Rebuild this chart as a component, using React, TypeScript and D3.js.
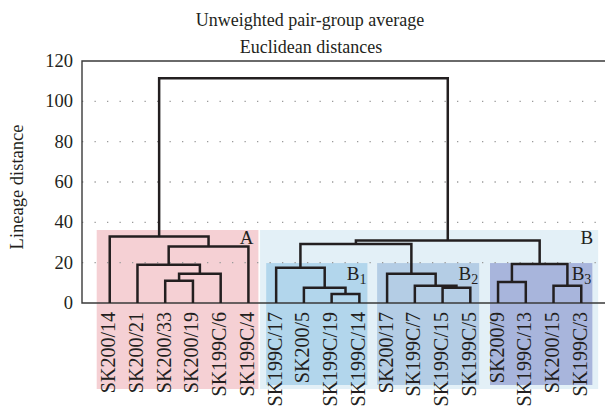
import * as d3 from "d3";

const leaves = [
  "SK200/14", "SK200/21", "SK200/33", "SK200/19", "SK199C/6", "SK199C/4",
  "SK199C/17", "SK200/5", "SK199C/19", "SK199C/14",
  "SK200/17", "SK199C/7", "SK199C/15", "SK199C/5",
  "SK200/9", "SK199C/13", "SK200/15", "SK199C/3",
];

// [left node, right node, height]; node ids >= leaves.length are merges in order
const merges: [number, number, number][] = [
  [2, 3, 11],
  [18, 4, 14.5],
  [1, 19, 19],
  [20, 5, 28],
  [0, 21, 33],
  [8, 9, 4.5],
  [7, 23, 7.6],
  [6, 24, 17.5],
  [12, 13, 7.6],
  [11, 26, 8.6],
  [10, 27, 14.5],
  [25, 28, 29.3],
  [14, 15, 10.4],
  [16, 17, 8.6],
  [30, 31, 19.3],
  [29, 32, 31],
  [22, 33, 111.5],
];

const groups = [
  { name: "A", sub: "", from: 0, to: 5, top: 36.2, level: 0 },
  { name: "B", sub: "", from: 6, to: 17, top: 36.2, level: 0 },
  { name: "B", sub: "1", from: 6, to: 9, top: 19.8, level: 1 },
  { name: "B", sub: "2", from: 10, to: 13, top: 19.8, level: 1 },
  { name: "B", sub: "3", from: 14, to: 17, top: 19.8, level: 1 },
];
const groupColors = ["#f5d0d4", "#e3f0f7", "#b2d6ec", "#b4cde5", "#a8b5dc"];
// box padding either side of the end leaves, in leaf steps
const groupPad = [[0.47, 0.36], [0.58, 0.61], [0.36, 0.29], [0.36, 0.32], [0.29, 0.4]];

const yTicks = [0, 20, 40, 60, 80, 100, 120];
const gridTicks = [20, 40, 60, 80, 100];

const W = 605;
const H = 406;
const font = "'Liberation Serif', 'Times New Roman', serif";
const ink = "#231f20";

export default function App() {
  const x = d3.scalePoint<string>().domain(leaves).range([82, 609]).padding(1);
  const step = x.step();
  const y = d3.scaleLinear().domain([0, 120]).range([303, 61]);

  const nodeX: number[] = leaves.map((l) => x(l) as number);
  const nodeH: number[] = leaves.map(() => 0);
  const paths: string[] = [];
  merges.forEach(([a, b, h]) => {
    const xa = nodeX[a];
    const xb = nodeX[b];
    const p = d3.path();
    p.moveTo(xa, y(nodeH[a]));
    p.lineTo(xa, y(h));
    p.lineTo(xb, y(h));
    p.lineTo(xb, y(nodeH[b]));
    paths.push(p.toString());
    nodeX.push((xa + xb) / 2);
    nodeH.push(h);
  });

  const boxX = (i: number) => {
    const g = groups[i];
    return [
      (x(leaves[g.from]) as number) - groupPad[i][0] * step,
      (x(leaves[g.to]) as number) + groupPad[i][1] * step,
    ];
  };

  return (
    <svg width={W} height={H} style={{ position: "absolute", left: 0, top: 0 }}>
      <g fontFamily={font}>
        <rect width={W} height={H} fill="#fff" />
        {groups.map((g, i) => {
          const [x0, x1] = boxX(i);
          const bottom = g.level === 0 ? 389 : 385;
          return <rect key={i} x={x0} y={y(g.top)} width={x1 - x0} height={bottom - y(g.top)} fill={groupColors[i]} />;
        })}
        {gridTicks.map((t) => (
          <line key={t} x1={82} x2={W} y1={y(t)} y2={y(t)} stroke="#9a9a9a" strokeWidth={1.3} strokeDasharray="1.3 11.2" />
        ))}
        <path d={`M${W},${y(120)}H82V${y(0)}H${W}`} fill="none" stroke="#3a3a3a" strokeWidth={1.4} />
        {paths.map((d, i) => (
          <path key={i} d={d} fill="none" stroke={ink} strokeWidth={2.5} />
        ))}
        {yTicks.map((t) => (
          <text key={t} x={73} y={y(t) + 6} textAnchor="end" fontSize={18.5} fill={ink}>{t}</text>
        ))}
        {groups.map((g, i) => {
          const x1 = boxX(i)[1];
          if (g.level === 0) {
            return (
              <text key={i} x={x1 - 5} y={y(g.top) + 14} textAnchor="end" fontSize={19} fill={ink}>{g.name}</text>
            );
          }
          return (
            <text key={i} x={x1 - 1} y={y(g.top) + 17} textAnchor="end" fontSize={19} fill={ink}>
              {g.name}
              <tspan fontSize={14} dy={4}>{g.sub}</tspan>
            </text>
          );
        })}
        {leaves.map((l) => (
          <text key={l} transform={`translate(${(x(l) as number) + 5.5},312) rotate(-90)`} textAnchor="end" fontSize={20} fill={ink}>{l}</text>
        ))}
        <text x={310} y={26} textAnchor="middle" fontSize={18} fill={ink}>Unweighted pair-group average</text>
        <text x={311} y={53} textAnchor="middle" fontSize={18} fill={ink}>Euclidean distances</text>
        <text transform="translate(23,187) rotate(-90)" textAnchor="middle" fontSize={18.5} fill={ink}>Lineage distance</text>
      </g>
    </svg>
  );
}
